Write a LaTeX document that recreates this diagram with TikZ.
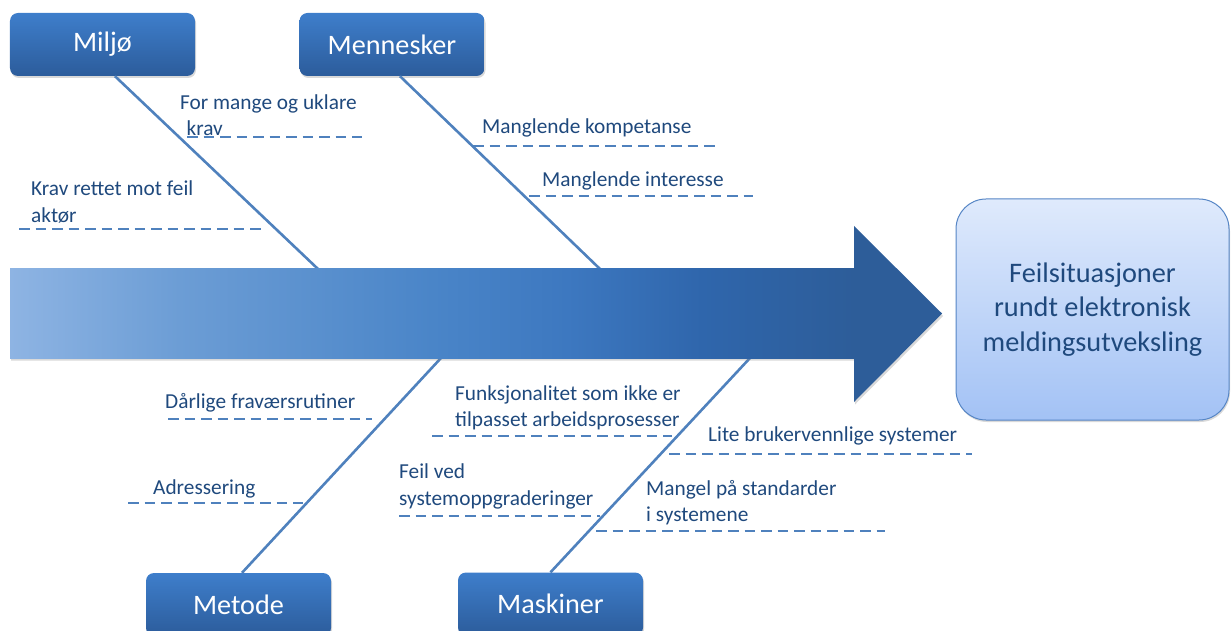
\documentclass[tikz,border=0pt]{standalone}
\usepackage{fontspec}
\setmainfont{Carlito}
\usetikzlibrary{shadows}
\definecolor{cattop}{HTML}{3E7ECB}
\definecolor{catbot}{HTML}{2C5C9B}
\definecolor{bonecol}{HTML}{4F81BD}
\definecolor{labelcol}{HTML}{1F497D}
\definecolor{headcol}{HTML}{2D5D99}
\definecolor{effecttop}{HTML}{DFEAFC}
\definecolor{effectbot}{HTML}{A3C2F5}
\definecolor{effectline}{HTML}{5585C5}
\definecolor{spineA}{HTML}{8EB4E3}
\definecolor{spineB}{HTML}{6C9DD5}
\definecolor{spineC}{HTML}{4A85C8}
\definecolor{spineD}{HTML}{3D78C0}
\definecolor{spineE}{HTML}{2F66AC}
\pgfdeclarehorizontalshading{spineshade}{100bp}{color(0bp)=(spineA); color(25bp)=(spineA);
  color(35bp)=(spineB); color(50bp)=(spineC); color(58bp)=(spineD); color(66bp)=(spineE);
  color(75bp)=(headcol); color(100bp)=(headcol)}
\tikzset{
  catbox/.style={rectangle, rounded corners=8bp, top color=cattop, bottom color=catbot,
                 draw=none, text=white, minimum width=185bp, minimum height=63bp,
                 font=\fontsize{28.3}{34}\selectfont,
                 drop shadow={opacity=0.3, shadow xshift=1bp, shadow yshift=-2bp}},
  effectbox/.style={rectangle, rounded corners=30bp, top color=effecttop, bottom color=effectbot,
                 draw=effectline, line width=1bp, text=labelcol, align=center,
                 minimum width=273bp, minimum height=221bp,
                 font=\fontsize{28.4}{34.5}\selectfont,
                 drop shadow={opacity=0.3, shadow xshift=1bp, shadow yshift=-2bp}},
  cause/.style={anchor=west, inner sep=0pt, align=left, text=labelcol,
                font=\fontsize{21.4}{26.5}\selectfont},
  bone/.style={draw=bonecol, line width=2.6bp},
  cue/.style={draw=bonecol, line width=1.4bp, dash pattern=on 10.5bp off 6bp},
}
\begin{document}
\begin{tikzpicture}[x=1bp, y=-1bp]
  \useasboundingbox (0,0) rectangle (1231,631);

  % Categories
  \node[catbox] (miljo)     at (102.5,44.5) {Miljø};
  \node[catbox] (mennesker) at (392,44.5)   {Mennesker};
  \node[catbox] (metode)    at (238.5,604.5) {Metode};
  \node[catbox] (maskiner)  at (550.5,604)  {Maskiner};

  % Effect
  \node[effectbox] (effect) at (1092.5,309.5) {Feilsituasjoner\\rundt elektronisk\\meldingsutveksling};

  % Spine points
  \coordinate (miljoS)     at (318,269);
  \coordinate (menneskerS) at (600,269);
  \coordinate (metodeS)    at (441,358);
  \coordinate (maskinerS)  at (750,358);

  % Bones
  \draw[bone] ([xshift=12.5bp]miljo.south) -- (miljoS);
  \draw[bone] ([xshift=8bp]mennesker.south) -- (menneskerS);
  \draw[bone] ([xshift=3.5bp]metode.north) -- (metodeS);
  \draw[bone] (maskiner.north) -- (maskinerS);

  % Spine
  \path[fill=headcol, drop shadow={opacity=0.3, shadow xshift=1bp, shadow yshift=-2.5bp}]
    (10,269) -- (854,269) -- (854,226) -- (942,313.5) -- (854,402) -- (854,358) -- (10,358) -- cycle;
  \shade[shading=spineshade] (10,269) rectangle (854,358);

  % Causes
  \node[cause] (c1)  at (180,115) {For mange og uklare\\\hspace*{.3em}krav};
  \node[cause] (c2)  at (31,202)  {Krav rettet mot feil\\aktør};
  \node[cause] (c3)  at (482,128) {Manglende kompetanse};
  \node[cause] (c4)  at (542,181) {Manglende interesse};
  \node[cause] (c5)  at (165,403) {Dårlige fraværsrutiner};
  \node[cause] (c6)  at (153,489) {Adressering};
  \node[cause] (c7)  at (455,408) {Funksjonalitet som ikke er\\tilpasset arbeidsprosesser};
  \node[cause] (c8)  at (399,486.5) {Feil ved\\systemoppgraderinger};
  \node[cause] (c9)  at (708,436) {Lite brukervennlige systemer};
  \node[cause] (c10) at (646,502.5) {Mangel på standarder\\i systemene};

  % Underlines
  \draw[cue] (187,137) -- (362,137);
  \draw[cue] (19,229)  -- (265,229);
  \draw[cue] (473,146) -- (718,146);
  \draw[cue] (529,196) -- (753,196);
  \draw[cue] (168,419) -- (372,419);
  \draw[cue] (128,503) -- (303,503);
  \draw[cue] (432,436) -- (672,436);
  \draw[cue] (399,516) -- (600,516);
  \draw[cue] (669,454) -- (972,454);
  \draw[cue] (596,531) -- (885,531);
\end{tikzpicture}
\end{document}
